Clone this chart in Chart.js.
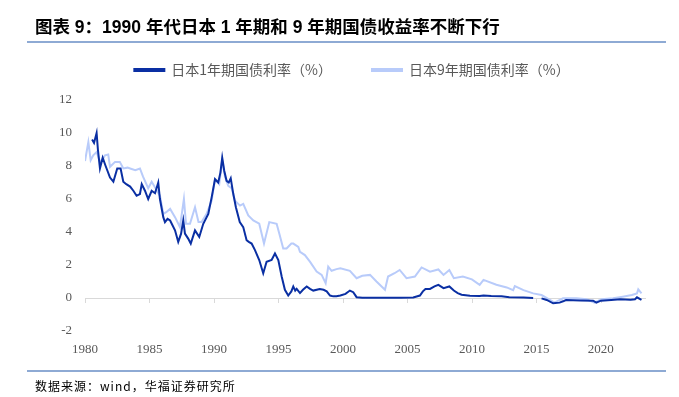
<!DOCTYPE html>
<html>
<head>
<meta charset="utf-8">
<script src="https://cdn.jsdelivr.net/npm/chart.js@4.4.1/dist/chart.umd.min.js"></script>
<style>
  html, body { margin: 0; padding: 0; background: #fff; }
  #wrap { position: relative; width: 679px; height: 397px; overflow: hidden; }
  #chart { position: absolute; left: 0; top: 0; }
  .title { position: absolute; left: 35px; top: 13px; font: bold 17.5px "Liberation Sans", "Noto Sans CJK SC", sans-serif; color: #000; white-space: nowrap; }
  .rule { position: absolute; left: 27px; width: 639px; height: 2px; background: #8eaad4; }
  .source { position: absolute; left: 35px; top: 377px; font: 12px "Noto Sans CJK SC", sans-serif; letter-spacing: 1px; color: #000; white-space: nowrap; }
</style>
</head>
<body>
<div id="wrap">
  <canvas id="chart" width="679" height="397"></canvas>
  <div class="title">图表 9：1990 年代日本 1 年期和 9 年期国债收益率不断下行</div>
  <div class="rule" style="top:41px"></div>
  <div class="rule" style="top:370px"></div>
  <div class="source">数据来源：wind，华福证券研究所</div>
</div>
<script>
// 日本1年期国债利率（%）
const shortYears = [1980.55, 1980.7, 1980.9, 1981.0, 1981.16, 1981.37, 1981.6, 1981.94, 1982.2, 1982.5,
  1982.76, 1982.97, 1983.2, 1983.5, 1983.75, 1984.0, 1984.26, 1984.4, 1984.65, 1984.9,
  1985.17, 1985.43, 1985.68, 1985.81, 1986.07, 1986.2, 1986.4, 1986.6, 1986.98, 1987.23,
  1987.45, 1987.62, 1987.75, 1988.0, 1988.2, 1988.53, 1988.86, 1989.17, 1989.56, 1989.82,
  1990.08, 1990.33, 1990.5, 1990.64, 1990.8, 1990.98, 1991.15, 1991.3, 1991.5, 1991.7,
  1992.0, 1992.27, 1992.53, 1992.7, 1992.92, 1993.18, 1993.51, 1993.82, 1994.08, 1994.47,
  1994.73, 1994.99, 1995.25, 1995.5, 1995.76, 1996.0, 1996.15, 1996.3, 1996.41, 1996.67,
  1996.9, 1997.19, 1997.45, 1997.7, 1998.2, 1998.5, 1998.74, 1999.0, 1999.25, 1999.5,
  1999.8, 2000.2, 2000.54, 2000.8, 2001.06, 2001.5, 2002.5, 2003.5, 2004.5, 2005.45,
  2005.97, 2006.2, 2006.4, 2006.75, 2007.1, 2007.4, 2007.8, 2008.25, 2008.6, 2008.9,
  2009.2, 2009.85, 2010.6, 2010.9, 2011.5, 2012.3, 2012.9, 2014.0, 2014.75, 2015.0,
  2015.4, 2015.8, 2016.3, 2016.8, 2017.07, 2017.3, 2018.4, 2019.4, 2019.65, 2020.0,
  2020.8, 2021.5, 2022.3, 2022.65, 2022.8, 2023.15];
const shortRates = [9.6, 9.4, 10.0, 9.0, 7.85, 8.5, 8.0, 7.3, 7.05, 7.85,
  7.85, 7.05, 6.9, 6.75, 6.5, 6.2, 6.3, 6.9, 6.5, 6.0,
  6.5, 6.35, 7.0, 6.0, 4.9, 4.6, 4.8, 4.7, 4.1, 3.4,
  3.9, 4.7, 3.9, 3.6, 3.3, 4.1, 3.7, 4.5, 5.1, 6.1,
  7.2, 7.0, 7.6, 8.5, 7.7, 7.1, 7.0, 7.25, 6.3, 5.5,
  4.6, 4.3, 3.5, 3.4, 3.3, 2.9, 2.3, 1.5, 2.2, 2.3,
  2.7, 2.3, 1.3, 0.5, 0.15, 0.4, 0.7, 0.45, 0.55, 0.3,
  0.5, 0.7, 0.55, 0.45, 0.55, 0.5, 0.4, 0.15, 0.1, 0.1,
  0.15, 0.25, 0.45, 0.35, 0.05, 0.02, 0.02, 0.02, 0.02, 0.03,
  0.15, 0.4, 0.55, 0.55, 0.7, 0.8, 0.6, 0.7, 0.45, 0.3,
  0.2, 0.14, 0.12, 0.15, 0.12, 0.1, 0.05, 0.03, 0.0, null,
  -0.02, -0.12, -0.32, -0.28, -0.2, -0.12, -0.15, -0.16, -0.28, -0.16,
  -0.12, -0.08, -0.1, -0.08, 0.04, -0.12];

// 日本9年期国债利率（%）
const longYears = [1980.0, 1980.26, 1980.44, 1980.64, 1980.9, 1981.16, 1981.4, 1981.55, 1981.8, 1981.94,
  1982.33, 1982.7, 1982.97, 1983.3, 1983.5, 1983.9, 1984.26, 1984.5, 1984.9, 1985.17,
  1985.55, 1985.81, 1986.07, 1986.3, 1986.6, 1986.98, 1987.36, 1987.67, 1987.83, 1988.14,
  1988.53, 1988.8, 1989.04, 1989.43, 1989.82, 1990.08, 1990.41, 1990.64, 1990.85, 1991.11,
  1991.37, 1991.63, 1992.02, 1992.27, 1992.66, 1993.05, 1993.51, 1993.88, 1994.29, 1994.86,
  1995.1, 1995.37, 1995.63, 1996.0, 1996.15, 1996.54, 1996.67, 1997.05, 1997.44, 1997.96,
  1998.35, 1998.66, 1998.86, 1999.12, 1999.5, 1999.8, 2000.54, 2001.06, 2001.5, 2002.1,
  2002.6, 2003.26, 2003.5, 2004.0, 2004.4, 2004.93, 2005.58, 2006.1, 2006.75, 2007.4,
  2007.8, 2008.25, 2008.6, 2009.3, 2010.0, 2010.6, 2010.9, 2011.9, 2012.7, 2013.2,
  2013.33, 2014.0, 2014.75, 2015.4, 2016.05, 2016.4, 2017.07, 2018.1, 2018.9, 2019.5,
  2020.05, 2020.95, 2021.7, 2022.4, 2022.8, 2022.9, 2023.15];
const longRates = [8.3, 9.45, 8.35, 8.65, 8.85, 8.25, 8.45, 8.65, 8.7, 7.95,
  8.25, 8.25, 7.85, 7.9, 7.85, 7.75, 7.85, 7.35, 6.65, 7.05,
  6.55, 6.2, 5.1, 5.2, 5.4, 4.9, 4.3, 6.0, 4.5, 4.5,
  5.5, 4.6, 4.6, 5.1, 5.9, 7.2, 6.9, 8.35, 7.35, 6.8,
  6.65, 5.9, 5.6, 5.7, 5.0, 4.7, 4.5, 3.3, 4.6, 4.5,
  3.8, 3.0, 3.0, 3.3, 3.3, 3.1, 2.8, 2.6, 2.2, 1.6,
  1.4, 0.9, 1.9, 1.65, 1.75, 1.8, 1.65, 1.2, 1.35, 1.4,
  1.0, 0.5, 1.3, 1.5, 1.7, 1.2, 1.3, 1.85, 1.6, 1.73,
  1.4, 1.7, 1.2, 1.3, 1.13, 0.8, 1.1, 0.8, 0.64, 0.48,
  0.72, 0.48, 0.28, 0.18, -0.12, -0.28, -0.02, -0.02, -0.08, -0.28,
  -0.08, -0.02, 0.08, 0.18, 0.28, 0.52, 0.28];

const seriesNames = ['日本1年期国债利率（%）', '日本9年期国债利率（%）'];
const yearTicks = [1980, 1985, 1990, 1995, 2000, 2005, 2010, 2015, 2020];
const rateTicks = [-2, 0, 2, 4, 6, 8, 10, 12];

const darkBlue = '#0a2fa3';
const lightBlue = '#b8cbfa';
const tickFont = { family: '"Liberation Serif", "Times New Roman", serif', size: 13 };

const toPoints = (xs, ys) => xs.map((x, i) => ({ x: x, y: ys[i] }));

// small tick marks hanging under the zero line
const zeroTicks = {
    id: 'zeroTicks',
    beforeDatasetsDraw(chart) {
        const { ctx, scales } = chart;
        const y0 = scales.y.getPixelForValue(0);
        ctx.save();
        ctx.strokeStyle = '#d9d9d9';
        ctx.lineWidth = 1;
        yearTicks.forEach(yr => {
            const x = Math.round(scales.x.getPixelForValue(yr)) + 0.5;
            ctx.beginPath();
            ctx.moveTo(x, y0);
            ctx.lineTo(x, y0 + 5);
            ctx.stroke();
        });
        ctx.restore();
    }
};

// extra room between the legend and the plot
const legendGap = {
    id: 'legendGap',
    afterInit(chart) {
        const fit = chart.legend.fit;
        chart.legend.fit = function () {
            fit.call(this);
            this.height += 13;
        };
    }
};

const ctx = document.getElementById('chart').getContext('2d');
new Chart(ctx, {
    type: 'line',
    data: {
        datasets: [{
            label: seriesNames[0],
            data: toPoints(shortYears, shortRates),
            borderColor: darkBlue,
            backgroundColor: darkBlue,
            borderWidth: 2,
            pointRadius: 0,
            tension: 0,
            spanGaps: false
        }, {
            label: seriesNames[1],
            data: toPoints(longYears, longRates),
            borderColor: lightBlue,
            backgroundColor: lightBlue,
            borderWidth: 2,
            pointRadius: 0,
            tension: 0
        }]
    },
    options: {
        responsive: false,
        animation: false,
        layout: { padding: { top: 23, right: 33, left: 58, bottom: 0 } },
        scales: {
            x: {
                type: 'linear',
                min: 1980,
                max: 2023.5,
                afterBuildTicks: axis => { axis.ticks = yearTicks.map(v => ({ value: v })); },
                afterFit: axis => { axis.height = 66; },
                ticks: {
                    color: '#595959',
                    font: tickFont,
                    padding: 11,
                    maxRotation: 0,
                    callback: v => String(v)
                },
                grid: { display: false, drawTicks: false },
                border: { display: false }
            },
            y: {
                min: -2,
                max: 12,
                afterBuildTicks: axis => { axis.ticks = rateTicks.map(v => ({ value: v })); },
                afterFit: axis => { axis.width = 27; },
                ticks: {
                    color: '#595959',
                    font: tickFont,
                    padding: 13
                },
                grid: {
                    drawTicks: false,
                    color: c => (c.tick && c.tick.value === 0 ? '#d9d9d9' : 'rgba(0,0,0,0)')
                },
                border: { display: false }
            }
        },
        plugins: {
            legend: {
                position: 'top',
                labels: {
                    boxWidth: 30,
                    boxHeight: 2,
                    padding: 40,
                    color: '#595959',
                    font: { family: '"Noto Sans CJK SC", sans-serif', size: 14 }
                }
            },
            tooltip: { enabled: false }
        }
    },
    plugins: [zeroTicks, legendGap]
});
</script>
</body>
</html>
